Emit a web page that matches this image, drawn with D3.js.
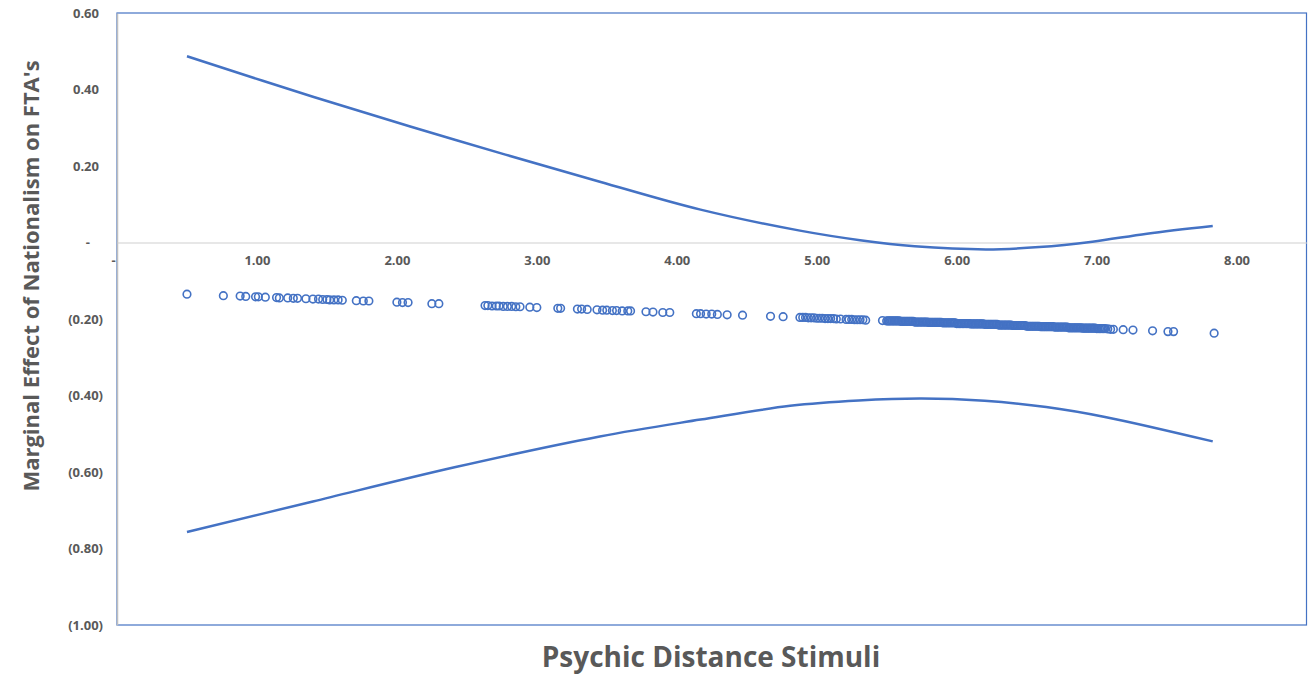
<!DOCTYPE html>
<html>
<head>
<meta charset="utf-8">
<script src="https://cdn.jsdelivr.net/npm/d3@7"></script>
<style>
  body { margin: 0; background: #fff; }
  text { font-family: "Open Sans", "Liberation Sans", sans-serif; }
</style>
</head>
<body>
<div id="chart"></div>
<script>
// x ticks and y ticks with their Excel accounting labels
const xTicks = [0, 1, 2, 3, 4, 5, 6, 7, 8];
const xTickLabels = ["-", "1.00", "2.00", "3.00", "4.00", "5.00", "6.00", "7.00", "8.00"];
const yTicks = [0.6, 0.4, 0.2, 0, -0.2, -0.4, -0.6, -0.8, -1.0];
const yTickLabels = ["0.60", "0.40", "0.20", "-", "(0.20)", "(0.40)", "(0.60)", "(0.80)", "(1.00)"];

// upper and lower confidence bounds
const upperBound = [
  [0.50, 0.487], [1.40, 0.381], [2.42, 0.268], [3.45, 0.159], [4.17, 0.086],
  [4.88, 0.031], [5.31, 0.006], [5.70, -0.010], [6.21, -0.018],
  [6.59, -0.012], [6.97, 0.002], [7.36, 0.023], [7.83, 0.043]
];
const lowerBound = [
  [0.50, -0.757], [1.40, -0.677], [2.42, -0.587], [3.45, -0.507], [4.17, -0.463],
  [4.81, -0.427], [5.30, -0.413], [5.75, -0.408], [6.20, -0.414], [6.64, -0.430],
  [7.06, -0.456], [7.83, -0.520]
];

// marginal effect at each observation (psychic distance, effect)
const effects = [
  [0.50, -0.135], [0.76, -0.139], [0.88, -0.140], [0.92, -0.141], [0.99, -0.142], [1.01, -0.142],
  [1.06, -0.143], [1.14, -0.144], [1.16, -0.145], [1.22, -0.145], [1.26, -0.146], [1.29, -0.146],
  [1.35, -0.147], [1.40, -0.148], [1.44, -0.148], [1.47, -0.149], [1.50, -0.149], [1.52, -0.150],
  [1.55, -0.150], [1.58, -0.150], [1.61, -0.151], [1.71, -0.152], [1.76, -0.153], [1.80, -0.153],
  [2.00, -0.156], [2.04, -0.157], [2.08, -0.157], [2.25, -0.160], [2.30, -0.160],
  [2.63, -0.165], [2.65, -0.165], [2.68, -0.166], [2.71, -0.166], [2.73, -0.166], [2.76, -0.167],
  [2.79, -0.167], [2.82, -0.167], [2.85, -0.168], [2.88, -0.168], [2.95, -0.169], [3.00, -0.170],
  [3.15, -0.172], [3.17, -0.172], [3.29, -0.174], [3.32, -0.174], [3.36, -0.175],
  [3.43, -0.176], [3.47, -0.177], [3.50, -0.177], [3.54, -0.178], [3.57, -0.178], [3.61, -0.179],
  [3.65, -0.179], [3.67, -0.179], [3.78, -0.181], [3.83, -0.182], [3.90, -0.183], [3.95, -0.183],
  [4.14, -0.186], [4.17, -0.186], [4.21, -0.187], [4.25, -0.187], [4.29, -0.188], [4.36, -0.189],
  [4.47, -0.190], [4.67, -0.193], [4.76, -0.194],
  [4.88, -0.196], [4.90, -0.196], [4.92, -0.196], [4.94, -0.197], [4.96, -0.197], [4.98, -0.197],
  [5.00, -0.198], [5.02, -0.198], [5.04, -0.198], [5.06, -0.199], [5.08, -0.199], [5.10, -0.199],
  [5.12, -0.199], [5.14, -0.200], [5.17, -0.200],
  [5.21, -0.201], [5.23, -0.201], [5.25, -0.201], [5.27, -0.202], [5.29, -0.202], [5.31, -0.202],
  [5.33, -0.202], [5.35, -0.203], [5.47, -0.204],
  [5.50, -0.205], [5.51, -0.205], [5.52, -0.205], [5.53, -0.205], [5.54, -0.205], [5.55, -0.205],
  [5.56, -0.205], [5.57, -0.205], [5.58, -0.205], [5.59, -0.205],
  [5.60, -0.206], [5.61, -0.206], [5.62, -0.206], [5.63, -0.206], [5.64, -0.206], [5.65, -0.206],
  [5.66, -0.206], [5.67, -0.206], [5.68, -0.206], [5.69, -0.206],
  [5.70, -0.208], [5.71, -0.208], [5.72, -0.208], [5.73, -0.208], [5.74, -0.208], [5.75, -0.208],
  [5.76, -0.208], [5.77, -0.208], [5.78, -0.208], [5.79, -0.208],
  [5.80, -0.209], [5.81, -0.209], [5.82, -0.209], [5.83, -0.209], [5.84, -0.209], [5.85, -0.209],
  [5.86, -0.209], [5.87, -0.209], [5.88, -0.209], [5.89, -0.209],
  [5.90, -0.210], [5.91, -0.210], [5.92, -0.210], [5.93, -0.210], [5.94, -0.210], [5.95, -0.210],
  [5.96, -0.210], [5.97, -0.210], [5.98, -0.210], [5.99, -0.210],
  [6.00, -0.212], [6.01, -0.212], [6.02, -0.212], [6.03, -0.212], [6.04, -0.212], [6.05, -0.212],
  [6.06, -0.212], [6.07, -0.212], [6.08, -0.212], [6.09, -0.212],
  [6.10, -0.213], [6.11, -0.213], [6.12, -0.213], [6.13, -0.213], [6.14, -0.213], [6.15, -0.213],
  [6.16, -0.213], [6.17, -0.213], [6.18, -0.213], [6.19, -0.213],
  [6.20, -0.214], [6.21, -0.214], [6.22, -0.214], [6.23, -0.214], [6.24, -0.214], [6.25, -0.214],
  [6.26, -0.214], [6.27, -0.214], [6.28, -0.214], [6.29, -0.214],
  [6.30, -0.216], [6.31, -0.216], [6.32, -0.216], [6.33, -0.216], [6.34, -0.216], [6.35, -0.216],
  [6.36, -0.216], [6.37, -0.216], [6.38, -0.216], [6.39, -0.216],
  [6.40, -0.217], [6.41, -0.217], [6.42, -0.217], [6.43, -0.217], [6.44, -0.217], [6.45, -0.217],
  [6.46, -0.217], [6.47, -0.217], [6.48, -0.217], [6.49, -0.217],
  [6.50, -0.219], [6.51, -0.219], [6.52, -0.219], [6.53, -0.219], [6.54, -0.219], [6.55, -0.219],
  [6.56, -0.219], [6.57, -0.219], [6.58, -0.219], [6.59, -0.219],
  [6.60, -0.220], [6.61, -0.220], [6.62, -0.220], [6.63, -0.220], [6.64, -0.220], [6.65, -0.220],
  [6.66, -0.220], [6.67, -0.220], [6.68, -0.220], [6.69, -0.220],
  [6.70, -0.221], [6.71, -0.221], [6.72, -0.221], [6.73, -0.221], [6.74, -0.221], [6.75, -0.221],
  [6.76, -0.221], [6.77, -0.221], [6.78, -0.221], [6.79, -0.221],
  [6.80, -0.223], [6.81, -0.223], [6.82, -0.223], [6.83, -0.223], [6.84, -0.223], [6.85, -0.223],
  [6.86, -0.223], [6.87, -0.223], [6.88, -0.223], [6.89, -0.223],
  [6.90, -0.224], [6.91, -0.224], [6.92, -0.224], [6.93, -0.224], [6.94, -0.224], [6.95, -0.224],
  [6.96, -0.224], [6.97, -0.224], [6.98, -0.224], [6.99, -0.224],
  [7.00, -0.225], [7.01, -0.225], [7.02, -0.225], [7.03, -0.225], [7.04, -0.225], [7.05, -0.225],
  [7.06, -0.225], [7.08, -0.226], [7.10, -0.227], [7.12, -0.227],
  [7.19, -0.228], [7.26, -0.229], [7.40, -0.231], [7.51, -0.233], [7.55, -0.233], [7.84, -0.237]
];

const blue = "#4472c4";
const textGrey = "#595959";

const svg = d3.select("#chart")
  .append("svg")
  .attr("width", 1308)
  .attr("height", 678);

const margin = { top: 13, right: 1.5, bottom: 53, left: 117 };
const width = 1308 - margin.right;
const height = 678 - margin.bottom;

const x = d3.scaleLinear()
  .domain([0, 8.5])
  .range([margin.left, width]);

const y = d3.scaleLinear()
  .domain([-1, 0.6])
  .range([height, margin.top]);

// plot area border (top, right, bottom in blue)
svg.append("rect")
  .attr("x", x(0))
  .attr("y", y(0.6))
  .attr("width", x(8.5) - x(0))
  .attr("height", y(-1) - y(0.6))
  .attr("fill", "none")
  .attr("stroke", blue)
  .attr("stroke-width", 1.2);

// y axis
const yAxis = svg.append("g")
  .attr("transform", `translate(${x(0)},0)`)
  .call(d3.axisLeft(y).tickValues(yTicks).tickSize(0).tickPadding(14)
    .tickFormat((d, i) => yTickLabels[i]));
yAxis.select(".domain").attr("stroke", "#bfbfbf").attr("stroke-width", 1.5);
yAxis.selectAll("text")
  .attr("font-size", 13)
  .attr("font-weight", 700)
  .attr("fill", textGrey)
  .attr("dx", (d, i) => yTickLabels[i] === "-" ? -13 : (yTickLabels[i].startsWith("(") ? 0 : -4));

// x axis crossing at zero
const xAxis = svg.append("g")
  .attr("transform", `translate(0,${y(0)})`)
  .call(d3.axisBottom(x).tickValues(xTicks).tickSize(0).tickPadding(13)
    .tickFormat((d, i) => xTickLabels[i]));
xAxis.select(".domain").attr("stroke", "#d0d0d0").attr("stroke-width", 1.2);
xAxis.selectAll("text")
  .attr("font-size", 13)
  .attr("font-weight", 700)
  .attr("fill", textGrey)
  .attr("dx", (d, i) => xTickLabels[i] === "-" ? -4 : 0);

const line = d3.line()
  .x(d => x(d[0]))
  .y(d => y(d[1]))
  .curve(d3.curveCatmullRom.alpha(0.5));

svg.append("path")
  .datum(upperBound)
  .attr("fill", "none")
  .attr("stroke", blue)
  .attr("stroke-width", 2.5)
  .attr("d", line);

svg.append("path")
  .datum(lowerBound)
  .attr("fill", "none")
  .attr("stroke", blue)
  .attr("stroke-width", 2.5)
  .attr("d", line);

svg.append("g")
  .selectAll("circle")
  .data(effects)
  .join("circle")
  .attr("cx", d => x(d[0]))
  .attr("cy", d => y(d[1]))
  .attr("r", 3.8)
  .attr("fill", "none")
  .attr("stroke", blue)
  .attr("stroke-width", 1.6);

// axis titles
svg.append("text")
  .attr("transform", `translate(30,${276}) rotate(-90)`)
  .attr("text-anchor", "middle")
  .attr("dominant-baseline", "central")
  .attr("font-size", 22)
  .attr("font-weight", 700)
  .attr("fill", textGrey)
  .text("Marginal Effect of Nationalism on FTA's");

svg.append("text")
  .attr("x", 711)
  .attr("y", 667)
  .attr("text-anchor", "middle")
  .attr("font-size", 28)
  .attr("font-weight", 700)
  .attr("fill", textGrey)
  .text("Psychic Distance Stimuli");
</script>
</body>
</html>
